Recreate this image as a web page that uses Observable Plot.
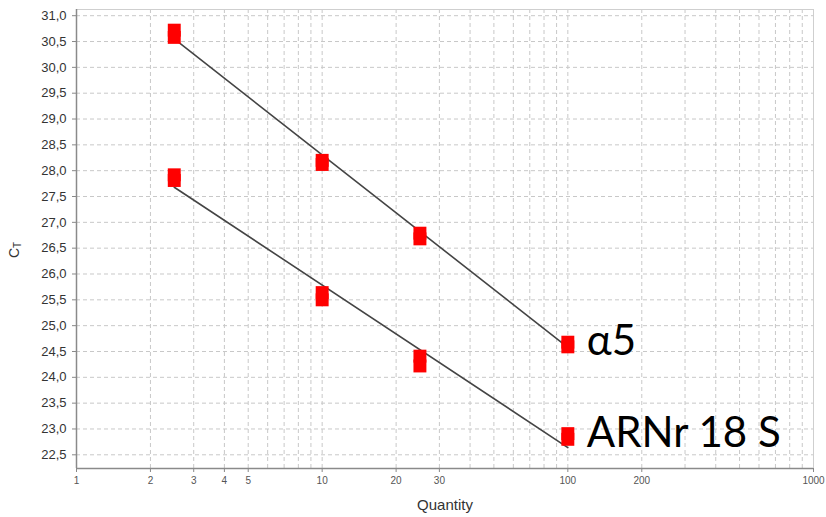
<!DOCTYPE html>
<html>
<head>
<meta charset="utf-8">
<script src="https://cdn.jsdelivr.net/npm/d3@7"></script>
<script src="https://cdn.jsdelivr.net/npm/@observablehq/plot@0.6"></script>
<style>
  html, body { margin: 0; padding: 0; background: #fff; }
  #chart { width: 826px; height: 517px; }
</style>
</head>
<body>
<div id="chart"></div>
<script>
// ---- data ----
const quantities = [2.5, 10, 25, 100];
const alpha5Rep1 = [30.72, 28.20, 26.79, 24.68];
const alpha5Rep2 = [30.58, 28.12, 26.68, 24.59];
const arnRep1 = [27.92, 25.64, 24.41, 22.91];
const arnRep2 = [27.81, 25.50, 24.22, 22.80];
const fitQuantities = [2.5, 100];
const alpha5Fit = [30.55, 24.58];
const arnFit = [27.68, 22.64];
const seriesNames = ["α5", "ARNr 18 S"];
const xTickValues = [1, 2, 3, 4, 5, 10, 20, 30, 100, 200, 1000];
const yTickValues = [22.5, 23, 23.5, 24, 24.5, 25, 25.5, 26, 26.5, 27, 27.5, 28, 28.5, 29, 29.5, 30, 30.5, 31];
const xGridValues = [1,2,3,4,5,6,7,8,9,10,20,30,40,50,60,70,80,90,100,200,300,400,500,600,700,800,900,1000];

// ---- tables built from the arrays ----
const points = [];
quantities.forEach((q, i) => {
  points.push({q, ct: alpha5Rep1[i], s: seriesNames[0]});
  points.push({q, ct: alpha5Rep2[i], s: seriesNames[0]});
  points.push({q, ct: arnRep1[i], s: seriesNames[1]});
  points.push({q, ct: arnRep2[i], s: seriesNames[1]});
});
const fits = [];
fitQuantities.forEach((q, i) => {
  fits.push({q, ct: alpha5Fit[i], s: seriesNames[0]});
  fits.push({q, ct: arnFit[i], s: seriesNames[1]});
});
const labels = seriesNames.map((s, k) => {
  const reps = k === 0 ? [alpha5Rep1, alpha5Rep2] : [arnRep1, arnRep2];
  const last = quantities.length - 1;
  return {s, q: quantities[last], ct: (reps[0][last] + reps[1][last]) / 2};
});

const yMin = 22.235, yMax = 31.12;
const fmt = d => d3.format(".1f")(d).replace(".", ",");

const chart = Plot.plot({
  width: 826,
  height: 517,
  marginLeft: 76,
  marginRight: 13,
  marginTop: 9,
  marginBottom: 49,
  style: {fontFamily: "'Liberation Sans', Arial, sans-serif", background: "#fff", overflow: "visible"},
  x: {type: "log", domain: [1, 1000]},
  y: {domain: [yMin, yMax]},
  marks: [
    Plot.gridX(xGridValues, {stroke: "#c8c8c8", strokeOpacity: 1, strokeDasharray: "4,3"}),
    Plot.gridY(yTickValues, {stroke: "#c8c8c8", strokeOpacity: 1, strokeDasharray: "4,3"}),
    Plot.frame({stroke: "#cfcfcf"}),
    Plot.axisX(xTickValues, {tickSize: 4, text: null, label: null, stroke: "#888"}),
    Plot.text(xTickValues, {x: d => d, text: d => String(d), frameAnchor: "bottom", dy: 15, fontSize: 10, fill: "#555"}),
    Plot.axisY(yTickValues, {tickSize: 4, tickPadding: 6, fontSize: 13, color: "#333", tickFormat: fmt, label: null, stroke: "#888"}),
    Plot.ruleX([1], {stroke: "#8a8a8a", strokeWidth: 1.5}),
    Plot.ruleY([yMin], {stroke: "#8a8a8a", strokeWidth: 1.5}),
    Plot.line(fits, {x: "q", y: "ct", z: "s", stroke: "#444", strokeWidth: 1.6}),
    Plot.dot(points, {x: "q", y: "ct", symbol: "square", r: 7.3, fill: "#ff0000", stroke: "none"}),
    Plot.text(labels, {x: "q", y: "ct", text: "s", textAnchor: "start", dx: 19, dy: -3, fontSize: 42, fill: "#000", fontFamily: "Lato, 'Open Sans', sans-serif"})
  ]
});

const svg = d3.select(chart);
svg.append("text")
  .attr("x", 445).attr("y", 510)
  .attr("text-anchor", "middle")
  .attr("font-size", 15)
  .attr("fill", "#333")
  .text("Quantity");
const ct = svg.append("text")
  .attr("transform", "translate(19,250) rotate(-90)")
  .attr("font-size", 14)
  .attr("fill", "#333");
ct.append("tspan").text("C");
ct.append("tspan").attr("font-size", 10).attr("dy", 2).text("T");

document.getElementById("chart").appendChild(chart);
</script>
</body>
</html>
